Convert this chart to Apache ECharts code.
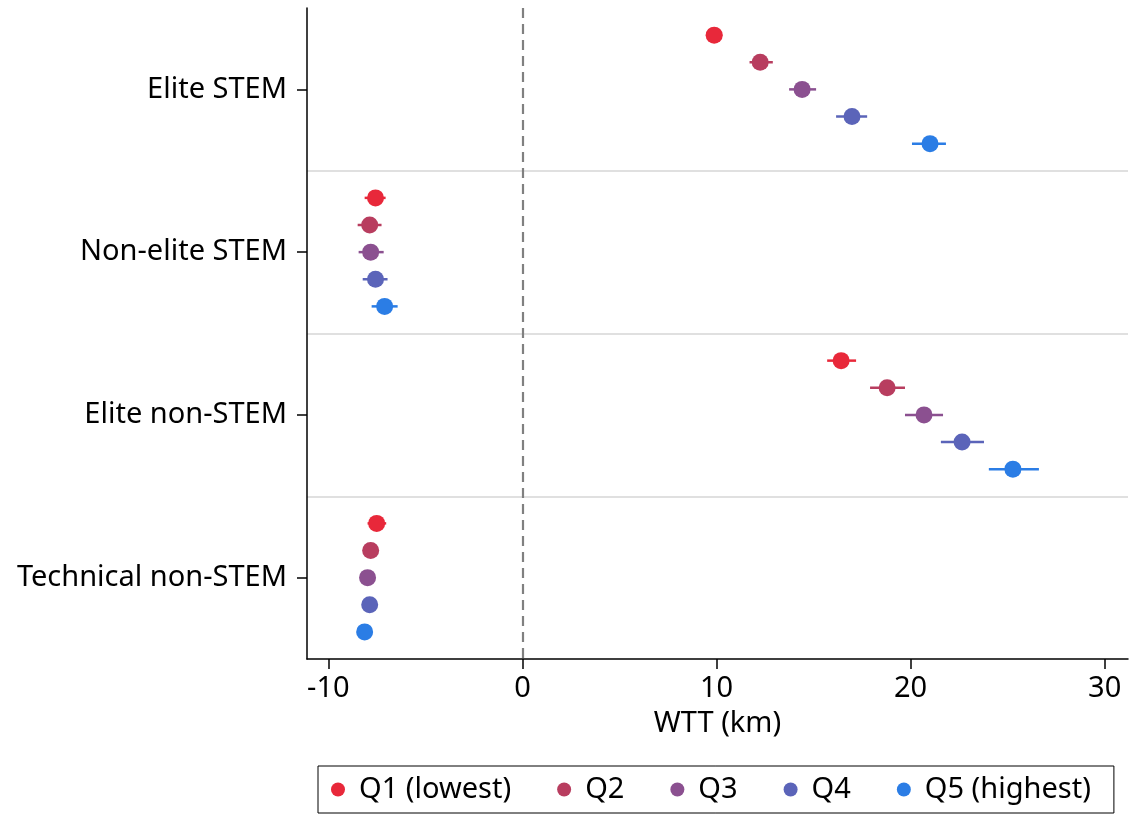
<!DOCTYPE html>
<html>
<head>
<meta charset="utf-8">
<script src="https://cdn.jsdelivr.net/npm/echarts@6/dist/echarts.min.js"></script>
<style>
  html, body { margin: 0; padding: 0; background: #fff; }
  #chart { width: 1135px; height: 815px; }
</style>
</head>
<body>
<div id="chart"></div>
<script>
var categories = ['Elite STEM', 'Non-elite STEM', 'Elite non-STEM', 'Technical non-STEM'];
var quintiles = ['Q1 (lowest)', 'Q2', 'Q3', 'Q4', 'Q5 (highest)'];
var colors = ['#E8283A', '#B83D5F', '#8B5090', '#5B64B9', '#2B7DE5'];

// point estimates, one value per category
var estQ1 = [9.88, -7.57, 16.42, -7.51];
var estQ2 = [12.25, -7.87, 18.79, -7.82];
var estQ3 = [14.41, -7.82, 20.69, -7.98];
var estQ4 = [16.98, -7.57, 22.65, -7.87];
var estQ5 = [21.00, -7.10, 25.27, -8.13];

// confidence interval bounds
var loQ1 = [9.45, -8.13, 15.70, -7.98];
var hiQ1 = [10.30, -7.05, 17.19, -7.02];
var loQ2 = [11.70, -8.49, 17.91, -8.12];
var hiQ2 = [12.90, -7.26, 19.71, -7.52];
var loQ3 = [13.74, -8.44, 19.71, -8.30];
var hiQ3 = [15.13, -7.15, 21.67, -7.66];
var loQ4 = [16.16, -8.23, 21.56, -8.20];
var hiQ4 = [17.76, -6.95, 23.78, -7.54];
var loQ5 = [20.07, -7.77, 24.03, -8.48];
var hiQ5 = [21.82, -6.43, 26.61, -7.78];

var xTicks = [-10, 0, 10, 20, 30];

var estAll = [estQ1, estQ2, estQ3, estQ4, estQ5];
var loAll = [loQ1, loQ2, loQ3, loQ4, loQ5];
var hiAll = [hiQ1, hiQ2, hiQ3, hiQ4, hiQ5];

var chart = echarts.init(document.getElementById('chart'));

var renderCI = function (params, api) {
    var color = api.visual('color');
    var p = api.coord([api.value(0), api.value(1)]);
    var lo = api.coord([api.value(2), api.value(1)]);
    var hi = api.coord([api.value(3), api.value(1)]);
    return {
        type: 'group',
        children: [{
            type: 'line',
            shape: { x1: lo[0], y1: lo[1], x2: hi[0], y2: hi[1] },
            style: { stroke: color, lineWidth: 2.5 }
        }, {
            type: 'circle',
            shape: { cx: p[0], cy: p[1], r: 8.5 },
            style: { fill: color }
        }]
    };
};

var series = quintiles.map(function (name, k) {
    var data = categories.map(function (c, i) {
        // vertical slot inside the category band
        return [estAll[k][i], i + (k + 1) / 6, loAll[k][i], hiAll[k][i]];
    });
    return {
        name: name,
        type: 'custom',
        xAxisIndex: 0,
        yAxisIndex: 1,
        itemStyle: { color: colors[k] },
        renderItem: renderCI,
        encode: { x: [0, 2, 3], y: 1 },
        data: data,
        z: 5
    };
});

// zero reference line
series.push({
    name: 'zero',
    type: 'line',
    xAxisIndex: 0,
    yAxisIndex: 1,
    data: [],
    markLine: {
        silent: true,
        symbol: 'none',
        label: { show: false },
        lineStyle: { type: [10, 6], color: '#808080', width: 2.2 },
        data: [{ xAxis: 0 }]
    }
});

var option = {
    animation: false,
    textStyle: { fontFamily: 'Noto Sans' },
    grid: { left: 307, right: 7, top: 8, bottom: 156, containLabel: false },
    xAxis: {
        type: 'value',
        position: 'bottom',
        min: -11.1,
        max: 31.2,
        name: 'WTT (km)',
        nameLocation: 'middle',
        nameGap: 50,
        nameTextStyle: { fontSize: 29, color: '#000', fontFamily: 'Noto Sans' },
        axisLine: { show: true, onZero: false, lineStyle: { color: '#000', width: 1.5 } },
        axisTick: { show: true, length: 10, customValues: xTicks, lineStyle: { color: '#000', width: 1.5 } },
        axisLabel: { customValues: xTicks, fontSize: 29, color: '#000', margin: 15 },
        splitLine: { show: false }
    },
    yAxis: [{
        type: 'category',
        position: 'left',
        data: categories,
        inverse: true,
        boundaryGap: true,
        axisLine: { show: true, onZero: false, lineStyle: { color: '#000', width: 1.5 } },
        axisTick: { show: true, alignWithLabel: true, length: 10, lineStyle: { color: '#000', width: 1.5 } },
        axisLabel: { fontSize: 29, color: '#000', margin: 20 },
        splitLine: {
            show: true,
            showMinLine: false,
            showMaxLine: false,
            lineStyle: { color: '#e0e0e0', width: 2 }
        }
    }, {
        type: 'value',
        min: 0,
        max: 4,
        inverse: true,
        show: false
    }],
    legend: {
        data: quintiles.map(function (q) { return { name: q, icon: 'circle' }; }),
        left: 318,
        bottom: 2,
        itemWidth: 14,
        itemHeight: 14,
        itemGap: 46,
        padding: [9, 23, 9, 13],
        borderColor: '#000',
        borderWidth: 1,
        textStyle: { fontSize: 29, color: '#000', fontFamily: 'Noto Sans', padding: [0, 0, 0, 9] }
    },
    series: series
};

chart.setOption(option);
</script>
</body>
</html>
